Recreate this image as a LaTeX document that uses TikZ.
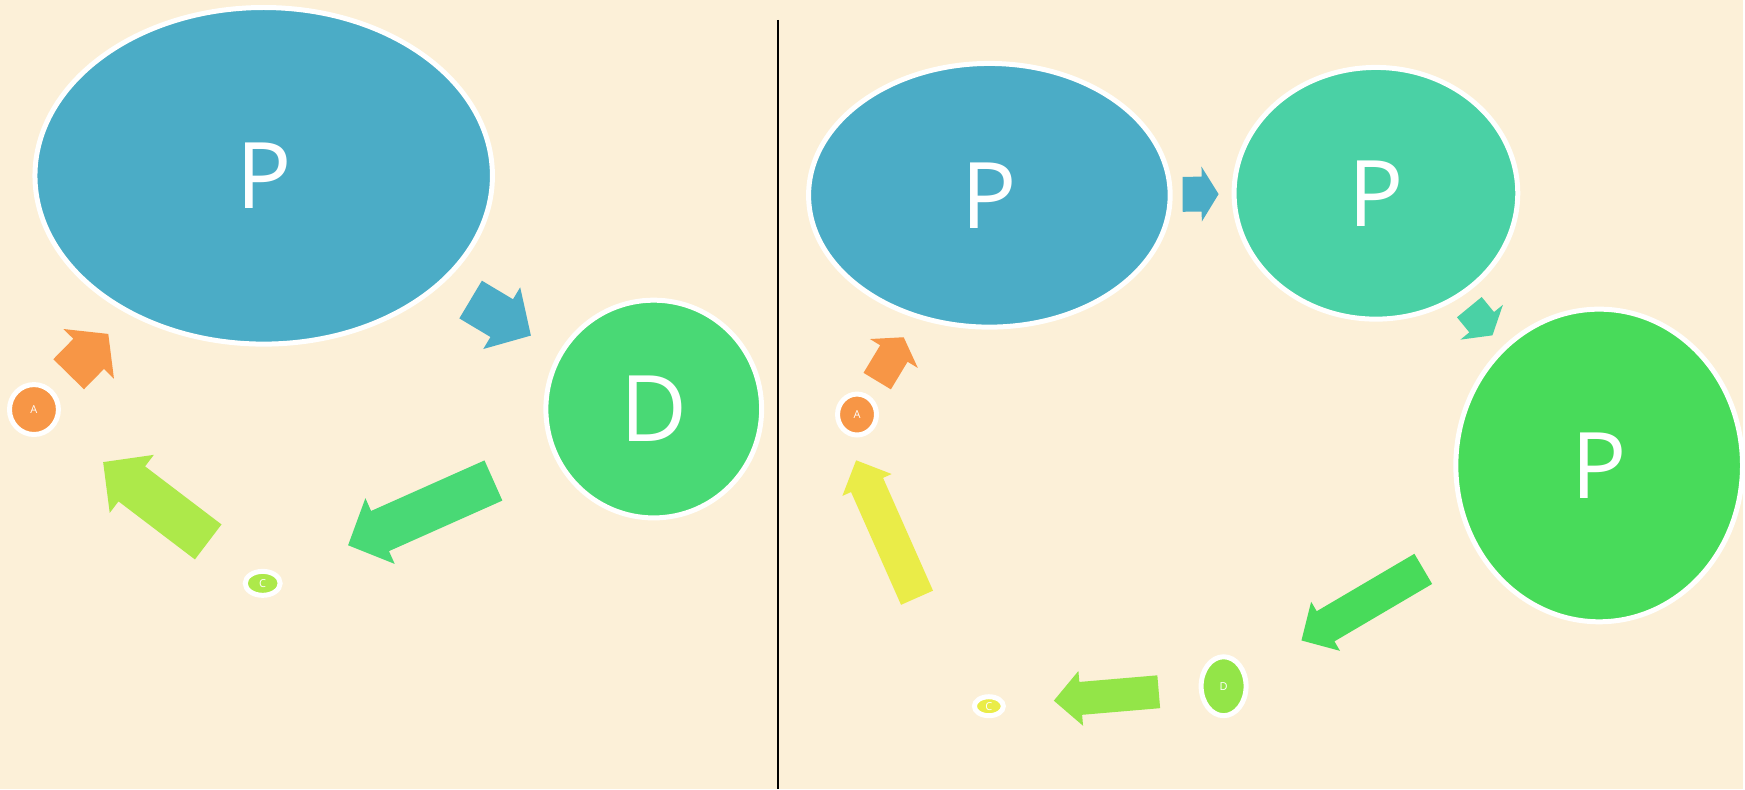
\documentclass[tikz,border=0pt]{standalone}
\usepackage{fontspec}
\setmainfont{Open Sans}
\usetikzlibrary{calc,shapes.geometric}
\definecolor{BackClr}{HTML}{FCF0D8}
\definecolor{BlueClr}{HTML}{4BACC6}
\definecolor{TealClr}{HTML}{4AD1A5}
\definecolor{GreenClr}{HTML}{49D975}
\definecolor{LeafClr}{HTML}{48DB5A}
\definecolor{LimeClr}{HTML}{ADE94A}
\definecolor{PearClr}{HTML}{93E548}
\definecolor{YellowClr}{HTML}{EAEC48}
\definecolor{OrangeClr}{HTML}{F79646}

\tikzset{
  stage/.style={ellipse,draw=white,line width=5pt,text=white,inner sep=0pt},
  bigtxt/.style={font=\fontsize{92}{92}\selectfont},
  smalltxt/.style={font=\fontsize{11}{11}\selectfont}
}

% colour, from, to, half body, half head, head length
\newcommand{\blockarrow}[6]{%
  \coordinate (ba-s) at (#2);
  \coordinate (ba-e) at (#3);
  \coordinate (ba-h) at ($(ba-e)!#6!(ba-s)$);
  \fill[#1] ($(ba-s)!#4!90:(ba-e)$) -- ($(ba-h)!#4!-90:(ba-s)$) -- ($(ba-h)!#5!-90:(ba-s)$)
    -- (ba-e) -- ($(ba-h)!#5!90:(ba-s)$) -- ($(ba-h)!#4!90:(ba-s)$) -- ($(ba-s)!#4!-90:(ba-e)$) -- cycle;
}

\begin{document}
\begin{tikzpicture}[x=1pt,y=-1pt]
\fill[BackClr] (0,0) rectangle (1745,790);
\draw[line width=1.5pt] (779,20) -- (779,790);

% left cycle
\node[stage,bigtxt,fill=BlueClr,minimum width=458pt,minimum height=337pt] (PL) at (264,176) {P};
\node[stage,bigtxt,fill=GreenClr,minimum width=216pt,minimum height=218pt] (DL) at (654.5,409.5) {D};
\node[stage,smalltxt,fill=LimeClr,minimum width=35pt,minimum height=24pt] (CL) at (263,584) {C};
\node[stage,smalltxt,fill=OrangeClr,minimum width=49pt,minimum height=50pt] (AL) at (34,410) {A};

\blockarrow{BlueClr}{$(PL)!.5305!(DL)$}{$(PL)!.685!(DL)$}{22pt}{36pt}{34pt}
\blockarrow{GreenClr}{$(DL)!.41!(CL)$}{$(DL)!.7816!(CL)$}{22pt}{36pt}{35pt}
\blockarrow{LimeClr}{$(CL)!.2382!(AL)$}{$(CL)!.6975!(AL)$}{22pt}{36.5pt}{36pt}
\blockarrow{OrangeClr}{$(AL)!.151!(PL)$}{$(AL)!.3235!(PL)$}{21.5pt}{35.5pt}{28pt}

% right cycle
\node[stage,bigtxt,fill=BlueClr,minimum width=362pt,minimum height=264pt] (P1) at (990.5,195.5) {P};
\node[stage,bigtxt,fill=TealClr,minimum width=284pt,minimum height=252pt] (P2) at (1377.5,193.5) {P};
\node[stage,bigtxt,fill=LeafClr,minimum width=287pt,minimum height=313pt] (P3) at (1601,466) {P};
\node[stage,smalltxt,fill=PearClr,minimum width=45pt,minimum height=59pt] (DR) at (1225,687) {D};
\node[stage,smalltxt,fill=YellowClr,minimum width=29pt,minimum height=19pt] (CR) at (990,707) {C};
\node[stage,smalltxt,fill=OrangeClr,minimum width=39pt,minimum height=41pt] (AR) at (858,415) {A};

\blockarrow{BlueClr}{$(P1)!.5!(P2)$}{$(P1)!.593!(P2)$}{17.5pt}{27.5pt}{17pt}
\blockarrow{TealClr}{$(P2)!.4183!(P3)$}{$(P2)!.5219!(P3)$}{16pt}{27.5pt}{17pt}
\blockarrow{LeafClr}{$(P3)!.4684!(DR)$}{$(P3)!.7927!(DR)$}{17.5pt}{28.5pt}{28pt}
\blockarrow{PearClr}{$(DR)!.2764!(CR)$}{$(DR)!.7232!(CR)$}{16.5pt}{27.5pt}{27pt}
\blockarrow{YellowClr}{$(CR)!.401!(AR)+(-19,8.5)$}{$(CR)!.8705!(AR)+(-18,8)$}{17.5pt}{27pt}{27pt}
\blockarrow{OrangeClr}{$(AR)!.1525!(P1)$}{$(AR)!.3525!(P1)$}{16pt}{28pt}{19pt}

\end{tikzpicture}
\end{document}
